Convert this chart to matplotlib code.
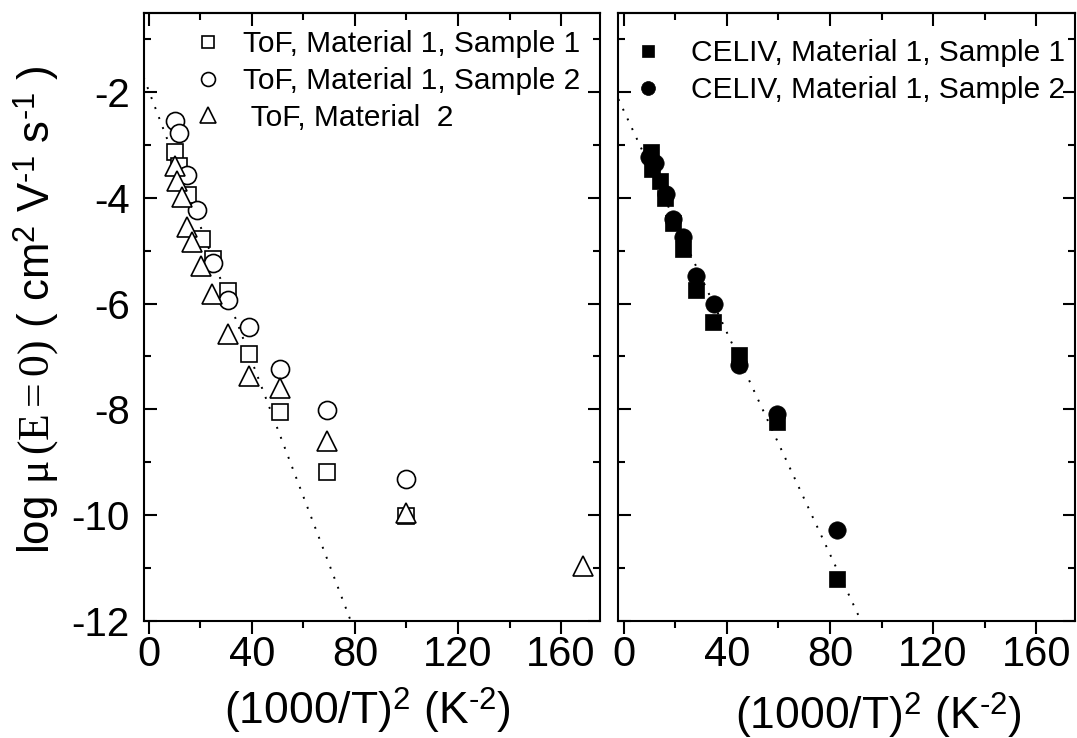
import matplotlib
matplotlib.use('Agg')
import matplotlib.pyplot as plt
import numpy as np
from matplotlib.ticker import MultipleLocator

plt.rcParams['font.family'] = ['Liberation Sans', 'DejaVu Sans']
plt.rcParams['axes.unicode_minus'] = False
plt.rcParams['mathtext.fontset'] = 'custom'
plt.rcParams['mathtext.rm'] = 'Liberation Serif'
plt.rcParams['mathtext.sf'] = 'Liberation Sans'
plt.rcParams['mathtext.it'] = 'Liberation Serif:italic'

# ---------------- data ----------------
# Left panel: ToF
tof_m1s1_x = [10.2, 11.9, 15.4, 20.6, 25.1, 30.9, 38.9, 50.8, 69.3, 99.9]
tof_m1s1_y = [-3.13, -3.40, -3.94, -4.78, -5.15, -5.77, -6.96, -8.05, -9.19, -10.02]

tof_m1s2_x = [10.0, 11.8, 15.0, 18.9, 25.1, 30.6, 38.9, 50.8, 69.3, 99.9]
tof_m1s2_y = [-2.55, -2.77, -3.56, -4.22, -5.24, -5.94, -6.44, -7.23, -8.02, -9.32]

tof_m2_x = [10.2, 10.9, 12.8, 14.8, 16.9, 20.3, 24.7, 30.7, 38.9, 50.8, 69.3, 99.9, 168.5]
tof_m2_y = [-3.40, -3.67, -3.98, -4.55, -4.84, -5.28, -5.81, -6.57, -7.36, -7.59, -8.60, -9.97, -10.96]

# Right panel: CELIV
celiv_s1_x = [10.6, 10.9, 14.2, 16.1, 19.1, 22.9, 28.1, 34.8, 44.8, 59.3, 82.8]
celiv_s1_y = [-3.13, -3.45, -3.67, -4.00, -4.48, -4.96, -5.74, -6.35, -6.98, -8.24, -11.22]

celiv_s2_x = [10.0, 12.2, 16.5, 19.3, 23.2, 28.1, 35.0, 44.6, 59.3, 82.8]
celiv_s2_y = [-3.23, -3.34, -3.92, -4.39, -4.74, -5.48, -6.00, -7.17, -8.08, -10.29]

# Linear fits (intercept, slope) of log mu vs (1000/T)^2
fit_left = (-1.97, -0.128)
fit_right = (-2.34, -0.105)

legend_left = ['ToF, Material 1, Sample 1', 'ToF, Material 1, Sample 2', ' ToF, Material  2']
legend_right = ['CELIV, Material 1, Sample 1', 'CELIV, Material 1, Sample 2']

xticks_major = [0, 40, 80, 120, 160]
yticks_major = [-12, -10, -8, -6, -4, -2]

W, H = 1077, 738
fig = plt.figure(figsize=(W / 100, H / 100), dpi=100)

def ax_rect(x0, x1, ytop, ybot):
    return [x0 / W, 1 - ybot / H, (x1 - x0) / W, (ybot - ytop) / H]

axL = fig.add_axes(ax_rect(143.6, 599.7, 13, 620.7))
axR = fig.add_axes(ax_rect(618.4, 1075, 13, 620.7))

XLIM = (-2, 175)
YLIM = (-12.0, -0.5)

for ax in (axL, axR):
    ax.set_xlim(*XLIM)
    ax.set_ylim(*YLIM)
    for s in ax.spines.values():
        s.set_linewidth(1.5)
    ax.xaxis.set_major_locator(MultipleLocator(40))
    ax.xaxis.set_minor_locator(MultipleLocator(20))
    ax.yaxis.set_major_locator(MultipleLocator(2))
    ax.yaxis.set_minor_locator(MultipleLocator(1))
    ax.set_xticks(xticks_major)
    ax.set_yticks(yticks_major)
    ax.yaxis.set_ticks_position('both')
    ax.tick_params(axis='x', which='both', direction='out', top=False,
                   labelsize=30, pad=1, width=1.5)
    ax.tick_params(axis='x', which='major', length=9)
    ax.tick_params(axis='x', which='minor', length=5)
    ax.tick_params(axis='y', which='both', direction='in', labelsize=29, pad=10, width=1.5)
    ax.tick_params(axis='y', which='major', length=9)
    ax.tick_params(axis='y', which='minor', length=5)
    sec = ax.secondary_xaxis('top')
    sec.xaxis.set_major_locator(MultipleLocator(40))
    sec.xaxis.set_minor_locator(MultipleLocator(20))
    sec.tick_params(axis='x', which='both', direction='in', labeltop=False, width=1.5)
    sec.tick_params(axis='x', which='major', length=9)
    sec.tick_params(axis='x', which='minor', length=5)
    sec.spines['top'].set_linewidth(1.5)

axR.tick_params(axis='y', labelleft=False)

# fit lines
xfit = np.linspace(XLIM[0], XLIM[1], 400)
for ax, (b, m) in ((axL, fit_left), (axR, fit_right)):
    ax.plot(xfit, b + m * xfit, color='black', lw=1.4, linestyle=(0, (1, 4.5)),
            dash_capstyle='butt', zorder=1)

# left markers
h1, = axL.plot(tof_m1s1_x, tof_m1s1_y, 's', ms=11, mfc='white', mec='black', mew=1.2,
               ls='none', zorder=3)
h2, = axL.plot(tof_m1s2_x, tof_m1s2_y, 'o', ms=13, mfc='white', mec='black', mew=1.2,
               ls='none', zorder=4)
h3, = axL.plot(tof_m2_x, tof_m2_y, '^', ms=15, mfc='white', mec='black', mew=1.2,
               ls='none', zorder=5)

# right markers
g1, = axR.plot(celiv_s1_x, celiv_s1_y, 's', ms=11.5, mfc='black', mec='black', mew=0.5,
               ls='none', zorder=3)
g2, = axR.plot(celiv_s2_x, celiv_s2_y, 'o', ms=12.5, mfc='black', mec='black', mew=0.5,
               ls='none', zorder=4)

legL = axL.legend([h1, h2, h3], legend_left, loc='upper left',
                  bbox_to_anchor=(193 / W, 1 - 30 / H), bbox_transform=fig.transFigure,
                  frameon=False, fontsize=21.5, handlelength=1.0, handletextpad=0.68,
                  labelspacing=0.30, borderpad=0, borderaxespad=0, markerscale=0.77)
legR = axR.legend([g1, g2], legend_right, loc='upper left',
                  bbox_to_anchor=(633 / W, 1 - 39 / H), bbox_transform=fig.transFigure,
                  frameon=False, fontsize=21.5, handlelength=1.0, handletextpad=0.94,
                  labelspacing=0.30, borderpad=0, borderaxespad=0, markerscale=0.8)

# axis labels
hy = '\u2010'
xlab = r'(1000/T)$^{\mathsf{2}}$ (K$^{\mathsf{' + hy + r'2}}$)'
fig.text(367.5 / W, 1 - 710 / H, xlab, fontsize=32, ha='center', va='center')
fig.text(878 / W, 1 - 715 / H, xlab, fontsize=32, ha='center', va='center')

ylab = (r'log $\mathrm{μ\,(E{=}0)}$ ( cm$^{\mathsf{2}}$ V$^{\mathsf{' + hy + r'1}}$ '
        r's$^{\mathsf{' + hy + r'1}}$ )')
fig.text(36 / W, 1 - 310 / H, ylab, fontsize=31.5, rotation=90, ha='center', va='center')

fig.savefig('out.png', dpi=100)
